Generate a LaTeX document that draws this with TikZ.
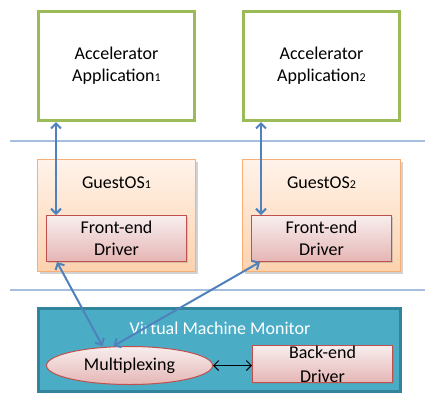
\documentclass[tikz,border=0pt]{standalone}
\usepackage{fontspec}
\setmainfont{Carlito}
\usetikzlibrary{arrows.meta,shapes.geometric,shadows}

\definecolor{appgreen}{HTML}{9BBB59}
\definecolor{osline}{HTML}{F9AE74}
\definecolor{ostop}{HTML}{FFF3EA}
\definecolor{osbot}{HTML}{FCD2AE}
\definecolor{drvline}{HTML}{C0504D}
\definecolor{drvtop}{HTML}{F8EEEE}
\definecolor{drvbot}{HTML}{E5B6B5}
\definecolor{vmmfill}{HTML}{4BACC6}
\definecolor{vmmline}{HTML}{31849B}
\definecolor{linkblue}{HTML}{4F81BD}
\definecolor{sepblue}{HTML}{A7BFDE}

\newcommand{\sub}[1]{{\fontsize{12}{12}\selectfont #1}}

\tikzset{
  txt/.style={align=center, font=\fontsize{18}{22}\selectfont},
  appbox/.style={txt, draw=appgreen, line width=3pt, minimum width=156pt, minimum height=109pt},
  osbox/.style={draw=osline, line width=1.2pt, top color=ostop, bottom color=osbot,
    minimum width=158pt, minimum height=112pt,
    drop shadow={shadow xshift=2pt, shadow yshift=-2pt, opacity=.35}},
  drvbox/.style={txt, draw=drvline, line width=1pt, top color=drvtop, bottom color=drvbot,
    minimum width=140pt, minimum height=46pt, inner sep=0pt,
    drop shadow={shadow xshift=1.5pt, shadow yshift=-1.5pt, opacity=.3}},
  link/.style={draw=linkblue, line width=2pt, {Straight Barb[length=5pt,width=10pt]}-{Straight Barb[length=5pt,width=10pt]}},
  bilink/.style={draw=black, line width=1pt, {Straight Barb[length=5pt,width=10pt]}-{Straight Barb[length=5pt,width=10pt]}},
  sepline/.style={draw=sepblue, line width=1.5pt}
}

\begin{document}
\begin{tikzpicture}[x=1pt, y=-1pt]
  \clip (0,0) rectangle (425,392);
  \fill[white] (0,0) rectangle (425,392);

  % layer separators
  \draw[sepline] (10,141) -- (425,141);
  \draw[sepline] (10,290) -- (425,290);

  % applications
  \node[appbox] (app1) at (116.5,66) {Accelerator\\Application\sub{1}};
  \node[appbox] (app2) at (321.5,66) {Accelerator\\Application\sub{2}};

  % guest systems
  \node[osbox] (os1) at (116.5,215.5) {};
  \node[osbox] (os2) at (321.5,215.5) {};
  \node[txt] (os1txt) at (116.5,183) {GuestOS\sub{1}};
  \node[txt] (os2txt) at (321.5,183) {GuestOS\sub{2}};
  \node[drvbox] (fe1) at (116.5,238.5) {Front-end\\Driver};
  \node[drvbox] (fe2) at (321.5,238.5) {Front-end\\Driver};

  % monitor
  \node[draw=vmmline, fill=vmmfill, line width=3pt, minimum width=362pt, minimum height=83pt] (vmm) at (219.5,349.5) {};
  \node[txt, text=white] (vmmtxt) at (220,328) {Virtual Machine Monitor};
  \node[txt, ellipse, draw=drvline, line width=1pt, top color=drvtop, bottom color=drvbot,
    minimum width=166pt, minimum height=38pt, inner sep=0pt] (mux) at (129.5,365.5) {Multiplexing};
  \node[drvbox, minimum height=37pt, font=\fontsize{18}{24}\selectfont] (be) at (322.5,364) {Back-end\\Driver};

  % connections
  \draw[link] ([xshift=-60.5pt]app1.south) -- ([xshift=-60.5pt]fe1.north);
  \draw[link] ([xshift=-60.5pt]app2.south) -- ([xshift=-60.5pt]fe2.north);
  \draw[link] ([xshift=11pt]fe1.south west) -- ([xshift=-27pt]mux.north);
  \draw[link] ([xshift=9pt]fe2.south west) -- ([xshift=-16pt]mux.north);
  \draw[bilink] (mux.east) -- (mux.east -| be.west);
\end{tikzpicture}
\end{document}
